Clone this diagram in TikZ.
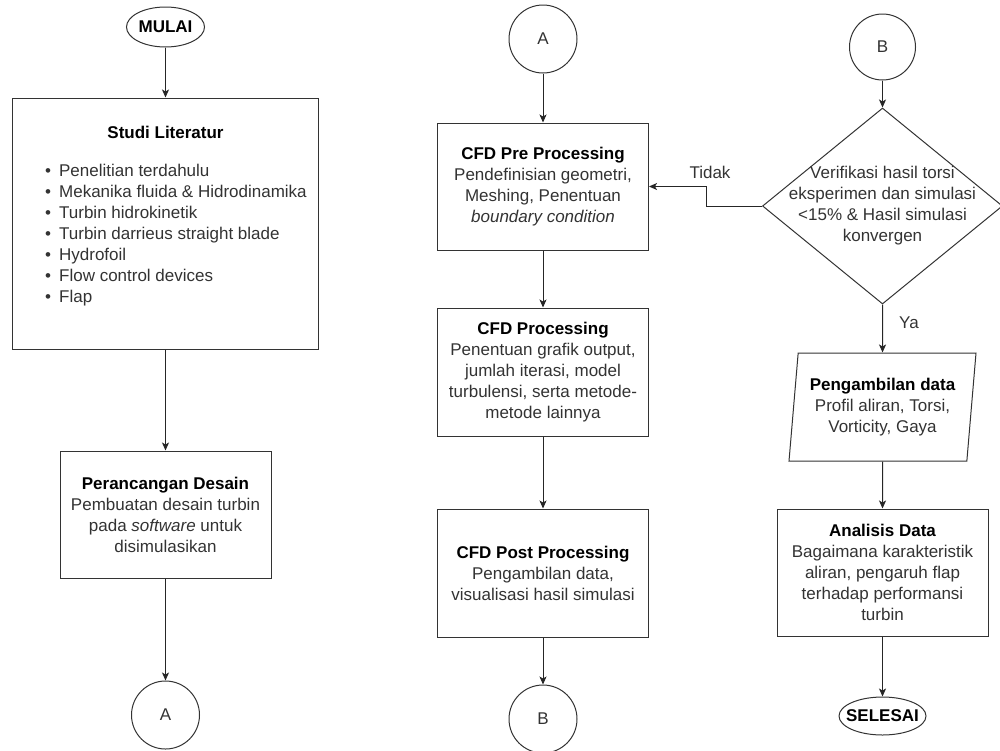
\documentclass[tikz,border=0pt]{standalone}
\usepackage{fontspec}
\setmainfont{Liberation Sans}
\usetikzlibrary{shapes.geometric, arrows.meta}

\newcommand{\ukuran}{\fontsize{17}{21}\selectfont}
\newcommand{\judul}[1]{\textcolor{black}{\bfseries #1}}

\tikzset{
  garis/.style={draw=black!80, line width=1pt},
  kotak/.style={garis, rectangle, fill=white, minimum width=211pt, minimum height=127pt, align=center, text=black!80, font=\ukuran},
  terminal/.style={garis, ellipse, inner sep=0pt},
  penghubung/.style={garis, circle, minimum size=68pt, inner sep=0pt, text=black!80, font=\ukuran},
  keputusan/.style={garis, diamond, minimum width=240pt, minimum height=196pt, inner sep=0pt},
  masukan/.style={garis, trapezium, trapezium left angle=81, trapezium right angle=99, trapezium stretches body, minimum width=187pt, minimum height=108pt, inner sep=0pt, align=center, text=black!80, font=\ukuran},
  teks/.style={text=black!80, font=\ukuran, align=center},
  panah/.style={draw=black!85, line width=1pt, -{Stealth[length=8pt, width=7pt, inset=2pt]}}
}

\begin{document}
\begin{tikzpicture}[x=1pt, y=-1pt]
\useasboundingbox (0,0) rectangle (1000,750);
% kolom kiri
\node[terminal, minimum width=78pt, minimum height=40pt, label={[font=\ukuran]center:\judul{MULAI}}] (mulai) at (165.5,27) {};
\node[kotak, minimum width=306pt, minimum height=251pt] (studi) at (165.5,223.5) {};
\node[teks] (studijudul) at (165.5,132) {\judul{Studi Literatur}};
\foreach \butir [count=\i] in {Penelitian terdahulu, Mekanika fluida \& Hidrodinamika, Turbin hidrokinetik, Turbin darrieus straight blade, Hydrofoil, Flow control devices, Flap}
  \node[teks, anchor=base west, inner sep=0pt] (butir\i) at (45,155+21*\i) {•\hspace{8pt}\butir};
\node[kotak] (desain) at (165.5,514.5) {\judul{Perancangan Desain}\\Pembuatan desain turbin\\pada \textit{software} untuk\\disimulasikan};
\node[penghubung] (a1) at (165.5,715) {A};
% kolom tengah
\node[penghubung] (a2) at (543,39) {A};
\node[kotak] (pre) at (543,186.5) {\judul{CFD Pre Processing}\\Pendefinisian geometri,\\Meshing, Penentuan\\\textit{boundary condition}};
\node[kotak, minimum height=128pt] (proses) at (543,372) {\judul{CFD Processing}\\Penentuan grafik output,\\jumlah iterasi, model\\turbulensi, serta metode-\\metode lainnya};
\node[kotak, minimum height=128pt] (post) at (543,573) {\judul{CFD Post Processing}\\Pengambilan data,\\visualisasi hasil simulasi};
\node[penghubung] (b1) at (543,719) {B};
% kolom kanan
\node[penghubung, minimum size=66pt] (b2) at (882.5,47) {B};
\node[keputusan] (verif) at (882.5,206) {};
\node[teks] (veriftks) at (verif) {Verifikasi hasil torsi\\eksperimen dan simulasi\\<15\% \& Hasil simulasi\\konvergen};
\node[masukan] (data) at (882.5,407) {\judul{Pengambilan data}\\Profil aliran, Torsi,\\Vorticity, Gaya};
\node[kotak] (analisis) at (882.5,572.5) {\judul{Analisis Data}\\Bagaimana karakteristik\\aliran, pengaruh flap\\terhadap performansi\\turbin};
\node[terminal, minimum width=87pt, minimum height=38pt, label={[font=\ukuran]center:\judul{SELESAI}}] (selesai) at (882.5,716) {};
\node[teks] (tidak) at (710,172) {Tidak};
\node[teks] (ya) at (909,323) {Ya};

\draw[panah] (mulai.south) -- (studi.north);
\draw[panah] (studi.south) -- (desain.north);
\draw[panah] (desain.south) -- (a1.north);
\draw[panah] (a2.south) -- (pre.north);
\draw[panah] (pre.south) -- (proses.north);
\draw[panah] (proses.south) -- (post.north);
\draw[panah] (post.south) -- (b1.north);
\draw[panah] (b2.south) -- (verif.north);
\draw[panah] (verif.south) -- (data.north);
\draw[panah] (data.south) -- (analisis.north);
\draw[panah] (analisis.south) -- (selesai.north);
\draw[panah] (verif.west) -- ++(-56,0) |- (pre.east);
\end{tikzpicture}
\end{document}
